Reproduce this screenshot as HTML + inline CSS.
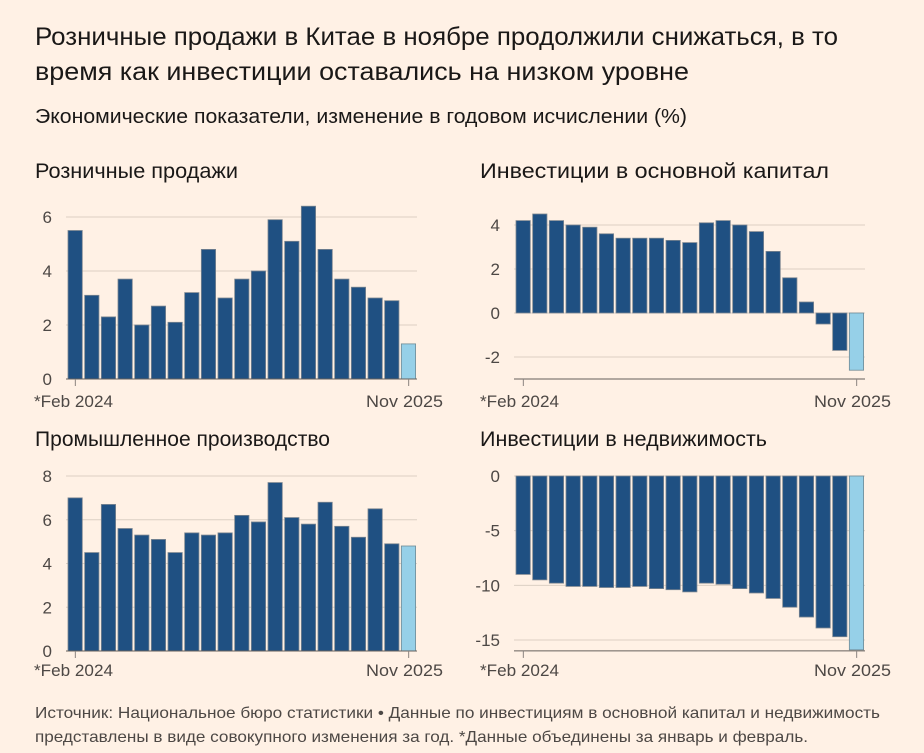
<!DOCTYPE html>
<html><head><meta charset="utf-8"><style>
html,body{margin:0;padding:0;background:#fff1e5;}
svg{display:block;font-family:"Liberation Sans","DejaVu Sans",sans-serif;}
</style></head><body>
<svg id="chart" width="924" height="753" viewBox="0 0 924 753" xmlns="http://www.w3.org/2000/svg">
<rect width="924" height="753" fill="#fff1e5"/>
<text x="35" y="45" font-size="25" fill="#1a1817" textLength="803" lengthAdjust="spacingAndGlyphs">Розничные продажи в Китае в ноябре продолжили снижаться, в то</text>
<text x="35" y="80" font-size="25" fill="#1a1817" textLength="654" lengthAdjust="spacingAndGlyphs">время как инвестиции оставались на низком уровне</text>
<text x="35" y="123" font-size="20" fill="#1a1817" textLength="652" lengthAdjust="spacingAndGlyphs">Экономические показатели, изменение в годовом исчислении (%)</text>
<text x="35" y="718" font-size="16" fill="#4d4845" textLength="845" lengthAdjust="spacingAndGlyphs">Источник: Национальное бюро статистики • Данные по инвестициям в основной капитал и недвижимость</text>
<text x="35" y="742" font-size="16" fill="#4d4845" textLength="773" lengthAdjust="spacingAndGlyphs">представлены в виде совокупного изменения за год. *Данные объединены за январь и февраль.</text>
</svg>
<script>
const retailValues=[5.5,3.1,2.3,3.7,2.0,2.7,2.1,3.2,4.8,3.0,3.7,4.0,5.9,5.1,6.4,4.8,3.7,3.4,3.0,2.9,1.3];
const faiValues=[4.2,4.5,4.2,4.0,3.9,3.6,3.4,3.4,3.4,3.3,3.2,4.1,4.2,4.0,3.7,2.8,1.6,0.5,-0.5,-1.7,-2.6];
const industryValues=[7.0,4.5,6.7,5.6,5.3,5.1,4.5,5.4,5.3,5.4,6.2,5.9,7.7,6.1,5.8,6.8,5.7,5.2,6.5,4.9,4.8];
const propertyValues=[-9.0,-9.5,-9.8,-10.1,-10.1,-10.2,-10.2,-10.1,-10.3,-10.4,-10.6,-9.8,-9.9,-10.3,-10.7,-11.2,-12.0,-12.9,-13.9,-14.7,-15.9];
const retailTicks=[0,2,4,6];
const faiTicks=[-2,0,2,4];
const industryTicks=[0,2,4,6,8];
const propertyTicks=[-15,-10,-5,0];
const xLabelFirst="*Feb 2024";
const xLabelLast="Nov 2025";

const NS="http://www.w3.org/2000/svg";
const svg=document.getElementById('chart');
function mk(tag,attrs,parent){const e=document.createElementNS(NS,tag);for(const k in attrs)e.setAttribute(k,attrs[k]);(parent||svg).appendChild(e);return e;}

const panels=[
 {name:'retail',title:'Розничные продажи',titleLen:203,tx:35,ty:178,values:retailValues,ticks:retailTicks,x0:66,x1:417,vTop:6,yTop:217,vBot:0,yBot:379,axisV:0,labelRight:52,xlY:407,xlFirst:34,xlLast:443},
 {name:'fixed-investment',title:'Инвестиции в основной капитал',titleLen:349,tx:480,ty:178,values:faiValues,ticks:faiTicks,x0:514,x1:865,vTop:4,yTop:225,vBot:-2,yBot:357,axisV:-3,labelRight:500,xlY:407,xlFirst:480,xlLast:891},
 {name:'industrial-output',title:'Промышленное производство',titleLen:295,tx:35,ty:446,values:industryValues,ticks:industryTicks,x0:66,x1:417,vTop:8,yTop:476,vBot:0,yBot:651,axisV:0,labelRight:52,xlY:676,xlFirst:34,xlLast:443},
 {name:'property-investment',title:'Инвестиции в недвижимость',titleLen:287,tx:480,ty:446,values:propertyValues,ticks:propertyTicks,x0:514,x1:865,vTop:0,yTop:476,vBot:-15,yBot:640,axisV:-16,labelRight:500,xlY:676,xlFirst:480,xlLast:891}
];

panels.forEach(p=>{
 const g=mk('g',{});
 
 
 const y=v=>p.yBot+(v-p.vBot)*(p.yTop-p.yBot)/(p.vTop-p.vBot);
 const n=p.values.length;
 const step=(p.x1-1-p.x0)/n;
 const xc=i=>p.x0+1+step*(i+0.5);
 const t=mk('text',{x:p.tx,y:p.ty,'font-size':21,fill:'#1a1817',textLength:p.titleLen,lengthAdjust:'spacingAndGlyphs'},g);
 
 
 t.textContent=p.title;
 p.ticks.forEach(v=>{
  const l=mk('line',{x1:p.x0,x2:p.x1,y1:y(v),y2:y(v),stroke:'#dccfc4','stroke-width':1},g);
  
  
  const tl=mk('text',{x:p.labelRight,y:y(v)+6,'font-size':17,fill:'#4d4845','text-anchor':'end'},g);
  
  
  tl.textContent=String(v);
 });
 p.values.forEach((v,i)=>{
  const y0=y(0),yv=y(v);
  const r=mk('rect',{x:xc(i)-step/2+1,width:step-2.4,y:Math.min(y0,yv),height:Math.abs(yv-y0),fill:i===n-1?'#96d0e8':'#1f5082',stroke:i===n-1?'#6f8a95':'#7a8590','stroke-width':0.8},g);
  
  
 });
 const ay=y(p.axisV);
 const ax=mk('line',{x1:p.x0,x2:p.x1,y1:ay,y2:ay,stroke:'#66605c','stroke-width':1},g);
 
 
 [0,n-1].forEach(i=>{
  const tk=mk('line',{x1:xc(i),x2:xc(i),y1:ay,y2:ay+7,stroke:'#8a8480','stroke-width':1},g);
  
  
 });
 const f=mk('text',{x:p.xlFirst,y:p.xlY,'font-size':17,fill:'#4d4845',textLength:79,lengthAdjust:'spacingAndGlyphs'},g);
 
 
 f.textContent=xLabelFirst;
 const la=mk('text',{x:p.xlLast,y:p.xlY,'font-size':17,fill:'#4d4845','text-anchor':'end',textLength:77,lengthAdjust:'spacingAndGlyphs'},g);
 
 
 la.textContent=xLabelLast;
});
</script>
</body></html>
